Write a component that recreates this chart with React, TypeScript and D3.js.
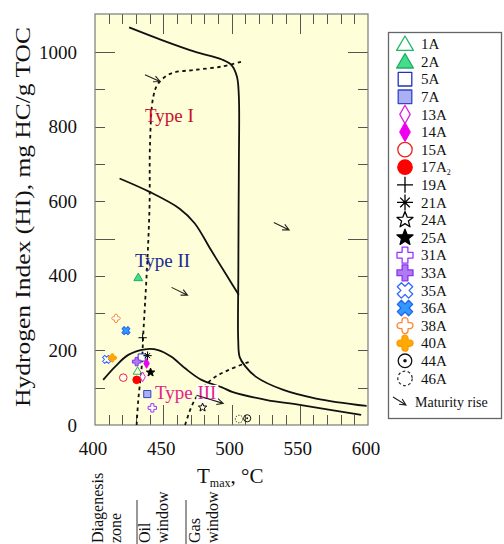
import { useEffect, useRef } from 'react';
import * as d3 from 'd3';

// HI vs Tmax (pseudo Van Krevelen) diagram

const typeICurve: [number, number][] = [
  [425, 1066], [449, 1032], [473, 1001], [493, 980], [500, 965], [504, 934],
  [505.4, 880], [505.4, 700], [505.2, 576], [505, 400], [504.9, 230],
  [506, 182], [510, 158], [518, 129], [538, 94], [562, 71], [599, 51],
];
const typeIICurve: [number, number][] = [
  [418, 661], [440, 625], [462, 580], [473, 541], [485, 469], [497, 398], [505.3, 349],
];
const typeIIICurve: [number, number][] = [
  [406, 121], [414.6, 156], [424.4, 188], [436.6, 203], [446.3, 201], [456, 183],
  [466, 152], [478, 121], [493, 101], [501, 88], [526, 67], [550, 54], [595, 27],
];
const oilLine: [number, number][] = [
  [430.5, 0], [431.7, 67], [434.2, 156], [435.4, 246], [436.6, 322], [438.5, 450],
  [440, 595], [440.3, 755], [442.7, 880], [446.4, 916], [456, 943], [473, 952],
  [492.7, 961], [507.4, 974],
];
const gasLine: [number, number][] = [
  [466, 0], [473, 67], [485, 121], [497.6, 147], [513.5, 170],
];
// maturity arrows: [x1, hi1, x2, hi2]
const arrows: [number, number, number, number][] = [
  [436.6, 939, 447.6, 921],
  [456.1, 369, 467.8, 348],
  [531, 543, 542.2, 523],
  [474.4, 80, 493.9, 58],
];

const sampleIds = ['1A', '2A', '5A', '7A', '13A', '14A', '15A', '17A', '19A', '21A',
  '24A', '25A', '31A', '33A', '35A', '36A', '38A', '40A', '44A', '46A'];
const sampleTmax = [431.2, 431.7, 434.2, 438.3, 434.9, 437.8, 420.7, 430.5, 434.9, 438.5,
  478.8, 440.7, 442, 430.5, 408.5, 422.7, 415.4, 412.7, 511.5, 505.6];
const sampleHI = [145, 396, 181, 83, 129, 165, 127, 121, 234, 186,
  47, 141, 46, 170, 176, 253, 286, 180, 18, 16];

const xTicks = [400, 450, 500, 550, 600];
const yTicks = [0, 200, 400, 600, 800, 1000];

type Style = { shape: string; stroke: string; fill: string; dash?: boolean };
const styles: Record<string, Style> = {
  '1A': { shape: 'triangle', stroke: '#22b866', fill: 'none' },
  '2A': { shape: 'triangle', stroke: '#1fae63', fill: '#45dc8c' },
  '5A': { shape: 'square', stroke: '#2233bb', fill: '#ffffff' },
  '7A': { shape: 'square', stroke: '#3344cc', fill: '#a9b1f2' },
  '13A': { shape: 'diamond', stroke: '#dd22dd', fill: '#ffffff' },
  '14A': { shape: 'diamond', stroke: '#ee00ee', fill: '#ee00ee' },
  '15A': { shape: 'circle', stroke: '#ee2222', fill: '#ffffff' },
  '17A': { shape: 'circle', stroke: '#ff0000', fill: '#ff0000' },
  '19A': { shape: 'plus', stroke: '#000000', fill: 'none' },
  '21A': { shape: 'asterisk', stroke: '#000000', fill: 'none' },
  '24A': { shape: 'star', stroke: '#000000', fill: '#ffffff' },
  '25A': { shape: 'star', stroke: '#000000', fill: '#000000' },
  '31A': { shape: 'cross', stroke: '#9933ff', fill: '#ffffff' },
  '33A': { shape: 'cross', stroke: '#8833ee', fill: '#b27af2' },
  '35A': { shape: 'x', stroke: '#3366ff', fill: '#ffffff' },
  '36A': { shape: 'x', stroke: '#2266ee', fill: '#3399ff' },
  '38A': { shape: 'clover', stroke: '#ff8833', fill: '#ffffff' },
  '40A': { shape: 'clover', stroke: '#ff9900', fill: '#ffaa00' },
  '44A': { shape: 'dotcircle', stroke: '#111111', fill: 'none' },
  '46A': { shape: 'circle', stroke: '#333333', fill: 'none', dash: true },
};

const serif = '"Liberation Serif", "Times New Roman", serif';

function drawSymbol(g: any, s: Style, cx: number, cy: number, r: number, sw: number) {
  const sg = g.append('g').attr('transform', `translate(${cx},${cy})`);
  const path = (d: string) =>
    sg.append('path').attr('d', d).attr('fill', s.fill).attr('stroke', s.stroke)
      .attr('stroke-width', sw).attr('stroke-linejoin', 'round');
  if (s.shape === 'triangle') {
    path(`M0,${-r}L${r * 1.05},${r * 0.8}L${-r * 1.05},${r * 0.8}Z`);
  } else if (s.shape === 'square') {
    const a = r * 0.85;
    path(`M${-a},${-a}H${a}V${a}H${-a}Z`);
  } else if (s.shape === 'diamond') {
    path(`M0,${-r * 1.15}L${r * 0.65},0L0,${r * 1.15}L${-r * 0.65},0Z`);
  } else if (s.shape === 'circle') {
    const c = sg.append('circle').attr('r', r * 0.9).attr('fill', s.fill)
      .attr('stroke', s.stroke).attr('stroke-width', sw);
    if (s.dash) c.attr('stroke-dasharray', `${r * 0.35},${r * 0.3}`);
  } else if (s.shape === 'dotcircle') {
    sg.append('circle').attr('r', r * 0.85).attr('fill', 'none')
      .attr('stroke', s.stroke).attr('stroke-width', sw);
    sg.append('circle').attr('r', r * 0.22).attr('fill', s.stroke);
  } else if (s.shape === 'plus') {
    path(`M${-r},0H${r}M0,${-r}V${r}`);
  } else if (s.shape === 'asterisk') {
    const a = r * 0.8;
    path(`M${-r},0H${r}M0,${-r}V${r}M${-a * 0.75},${-a * 0.75}L${a * 0.75},${a * 0.75}M${-a * 0.75},${a * 0.75}L${a * 0.75},${-a * 0.75}`);
  } else if (s.shape === 'star') {
    const pts = d3.range(10).map((i) => {
      const ang = -Math.PI / 2 + (i * Math.PI) / 5;
      const rr = i % 2 === 0 ? r * 1.05 : r * 0.45;
      return [rr * Math.cos(ang), rr * Math.sin(ang)];
    });
    path('M' + pts.map((p) => p.join(',')).join('L') + 'Z');
  } else if (s.shape === 'cross' || s.shape === 'x') {
    const a = r * 0.36;
    const b = r;
    const d = `M${-a},${-b}H${a}V${-a}H${b}V${a}H${a}V${b}H${-a}V${a}H${-b}V${-a}H${-a}Z`;
    const p = path(d);
    if (s.shape === 'x') p.attr('transform', 'rotate(45)');
  } else if (s.shape === 'clover') {
    const a = r * 0.38;
    const b = r;
    const d = `M${-a},${-a}V${-b + a}A${a},${a} 0 0 1 ${a},${-b + a}V${-a}` +
      `H${b - a}A${a},${a} 0 0 1 ${b - a},${a}H${a}` +
      `V${b - a}A${a},${a} 0 0 1 ${-a},${b - a}V${a}` +
      `H${-b + a}A${a},${a} 0 0 1 ${-b + a},${-a}Z`;
    path(d);
  }
}

export default function App() {
  const svgRef = useRef<SVGSVGElement>(null);

  useEffect(() => {
    if (!svgRef.current) return;
    const svg = d3.select(svgRef.current);
    svg.selectAll('*').remove();

    const x = d3.scaleLinear().domain([400, 600]).range([95, 368]);
    const y = d3.scaleLinear().domain([0, 1102]).range([425, 14]);
    const [x0, x1] = x.range();
    const [yb, yt] = y.range();

    // plot background
    svg.append('rect').attr('x', x0).attr('y', yt).attr('width', x1 - x0).attr('height', yb - yt)
      .attr('fill', '#fefed8').attr('stroke', 'none');

    // ticks
    const tickG = svg.append('g').attr('stroke', '#555').attr('stroke-width', 1);
    d3.range(410, 600, 10).forEach((v) => {
      const len = v % 50 === 0 ? 20 : 10;
      const px = Math.round(x(v)) + 0.5;
      tickG.append('line').attr('x1', px).attr('x2', px).attr('y1', yb).attr('y2', yb - len);
      tickG.append('line').attr('x1', px).attr('x2', px).attr('y1', yt).attr('y2', yt + len);
    });
    d3.range(100, 1100, 100).forEach((v) => {
      const len = v % 500 === 0 ? 20 : 10;
      const py = Math.round(y(v)) + 0.5;
      tickG.append('line').attr('x1', x0).attr('x2', x0 + len).attr('y1', py).attr('y2', py);
      tickG.append('line').attr('x1', x1).attr('x2', x1 - len).attr('y1', py).attr('y2', py);
    });

    svg.append('rect').attr('x', x0).attr('y', yt).attr('width', x1 - x0).attr('height', yb - yt)
      .attr('fill', 'none').attr('stroke', '#7a7a7a').attr('stroke-width', 1.2);

    // tick labels
    svg.append('g').selectAll('text').data(xTicks).enter().append('text')
      .attr('x', (d) => x(d) - 2).attr('y', 455).attr('text-anchor', 'middle')
      .attr('font-family', serif).attr('font-size', 19).attr('fill', '#111')
      .text((d) => d);
    svg.append('g').selectAll('text').data(yTicks).enter().append('text')
      .attr('x', 77).attr('y', (d) => y(d)).attr('dy', '0.35em').attr('text-anchor', 'end')
      .attr('font-family', serif).attr('font-size', 19).attr('fill', '#111')
      .text((d) => d);

    // axis titles
    svg.append('text')
      .attr('transform', `translate(30,${217}) rotate(-90)`)
      .attr('text-anchor', 'middle').attr('font-family', serif).attr('font-size', 22)
      .attr('textLength', 380).attr('lengthAdjust', 'spacingAndGlyphs')
      .attr('fill', '#111').text('Hydrogen Index (HI), mg HC/g TOC');
    const tx = svg.append('text').attr('x', 197).attr('y', 483)
      .attr('font-family', serif).attr('font-size', 21).attr('fill', '#111');
    tx.append('tspan').text('T');
    tx.append('tspan').attr('font-size', 12).attr('dy', 4).text('max');
    tx.append('tspan').attr('dy', -4).text(', °C');

    // curves
    const line = d3.line<[number, number]>().x((d) => x(d[0])).y((d) => y(d[1]))
      .curve(d3.curveCatmullRom.alpha(0.5));
    [typeICurve, typeIICurve, typeIIICurve].forEach((c) => {
      svg.append('path').attr('d', line(c)).attr('fill', 'none')
        .attr('stroke', '#111').attr('stroke-width', 1.8);
    });
    [oilLine, gasLine].forEach((c) => {
      svg.append('path').attr('d', line(c)).attr('fill', 'none')
        .attr('stroke', '#111').attr('stroke-width', 1.8).attr('stroke-dasharray', '3.5,3.5');
    });

    // maturity arrows
    const drawArrow = (ax1: number, ay1: number, ax2: number, ay2: number) => {
      const ang = Math.atan2(ay2 - ay1, ax2 - ax1);
      const h = 7;
      const p1 = [ax2 - h * Math.cos(ang - 0.45), ay2 - h * Math.sin(ang - 0.45)];
      const p2 = [ax2 - h * Math.cos(ang + 0.45), ay2 - h * Math.sin(ang + 0.45)];
      svg.append('path')
        .attr('d', `M${ax1},${ay1}L${ax2},${ay2}M${p1[0]},${p1[1]}L${ax2},${ay2}L${p2[0]},${p2[1]}`)
        .attr('fill', 'none').attr('stroke', '#222').attr('stroke-width', 1.1);
    };

    // type labels
    const lbl = (tx0: number, thi: number, txt: string, color: string) =>
      svg.append('text').attr('x', x(tx0)).attr('y', y(thi)).attr('font-family', serif)
        .attr('font-size', 19).attr('fill', color).text(txt);
    lbl(436.6, 812, 'Type I', '#c8102e');
    lbl(429.3, 424, 'Type II', '#1b2a8f');
    lbl(444, 70, 'Type', '#e2248a');
    const iiiX = x(475);
    svg.append('rect').attr('x', iiiX - 1).attr('y', y(70) - 14).attr('width', 22).attr('height', 17)
      .attr('fill', '#ffffff');
    svg.append('text').attr('x', iiiX).attr('y', y(70)).attr('font-family', serif)
      .attr('font-size', 19).attr('fill', '#e2248a').text('III');

    arrows.forEach((a) => drawArrow(x(a[0]), y(a[1]), x(a[2]), y(a[3])));

    // samples
    const ptG = svg.append('g');
    sampleIds.forEach((id, i) => {
      drawSymbol(ptG, styles[id], x(sampleTmax[i]), y(sampleHI[i]), 4.2, 1);
    });

    // legend
    const lg = svg.append('g');
    lg.append('rect').attr('x', 388.5).attr('y', 32.5).attr('width', 113).attr('height', 386)
      .attr('fill', '#fff').attr('stroke', '#666').attr('stroke-width', 1.3);
    sampleIds.forEach((id, i) => {
      const ly = 44 + i * 17.6;
      drawSymbol(lg, styles[id], 405, ly, 8, 1.3);
      const t = lg.append('text').attr('x', 421).attr('y', ly).attr('dy', '0.35em')
        .attr('font-family', serif).attr('font-size', 15).attr('fill', '#111');
      t.append('tspan').text(id);
      if (id === '17A') t.append('tspan').attr('font-size', 8).attr('dy', 3).text('2');
    });
    drawArrow(393, 397, 406, 405);
    lg.append('text').attr('x', 415).attr('y', 402).attr('dy', '0.35em')
      .attr('font-family', serif).attr('font-size', 14).attr('fill', '#111').text('Maturity rise');

    // maturity zones below the axis
    const zones = [
      { lines: ['Diagenesis', 'zone'], x: 103 },
      { lines: ['Oil', 'window'], x: 150 },
      { lines: ['Gas', 'window'], x: 200 },
    ];
    zones.forEach((z) => {
      z.lines.forEach((s, j) => {
        svg.append('text')
          .attr('transform', `translate(${z.x + j * 18},543) rotate(-90)`)
          .attr('font-family', serif).attr('font-size', 16).attr('fill', '#111').text(s);
      });
    });
    [137, 186].forEach((lx) => {
      svg.append('line').attr('x1', lx).attr('x2', lx).attr('y1', 500).attr('y2', 544)
        .attr('stroke', '#333').attr('stroke-width', 1);
    });

    return () => {
      svg.selectAll('*').remove();
    };
  }, []);

  return (
    <svg
      ref={svgRef}
      width={504}
      height={544}
      viewBox="0 0 504 544"
      style={{ position: 'absolute', left: 0, top: 0, background: '#fff' }}
    />
  );
}
